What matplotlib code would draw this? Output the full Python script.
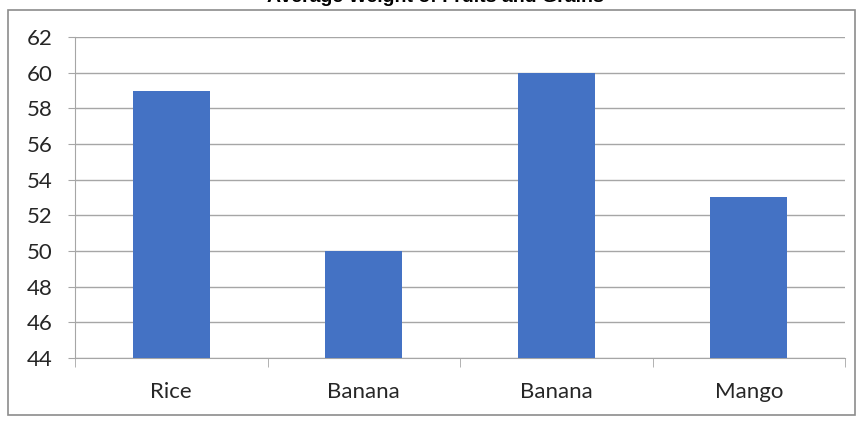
import matplotlib.pyplot as plt
import numpy as np
from matplotlib.patches import Rectangle

categories = ["Rice", "Banana", "Banana", "Mango"]
values = [59, 50, 60, 53]
y_ticks = [44, 46, 48, 50, 52, 54, 56, 58, 60, 62]

plt.rcParams["font.family"] = ["Lato", "DejaVu Sans"]

fig = plt.figure(figsize=(8.62, 4.21), dpi=100)
ax = fig.add_axes([75 / 862, 1 - 358 / 421, (845 - 75) / 862, (358 - 37) / 421])

x = np.arange(len(categories))
ax.bar(x, values, width=0.4, color="#4472C4", zorder=3)

ax.set_xlim(-0.5, len(categories) - 0.5)
ax.set_ylim(44, 62)
ax.set_yticks(y_ticks)
ax.grid(axis="y", color="#a6a6a6", linewidth=1, zorder=0)

ax.set_xticks(x)
ax.set_xticklabels(categories, fontsize=16, color="#262626")
ax.set_xticks(np.arange(-0.5, len(categories)), minor=True)
ax.tick_params(axis="x", which="major", length=0, pad=17)
ax.tick_params(axis="x", which="minor", length=6.5, color="#a6a6a6", direction="out")
ax.tick_params(axis="y", length=5, color="#a6a6a6", labelsize=16, labelcolor="#262626", pad=11)

for s in ["top", "right"]:
    ax.spines[s].set_visible(False)
for s in ["left", "bottom"]:
    ax.spines[s].set_color("#a6a6a6")

# chart frame and the title sitting above its top edge
fig.patches.append(Rectangle((8 / 862, 6 / 421), (855 - 8) / 862, (411 - 6) / 421,
                             transform=fig.transFigure, fill=False,
                             edgecolor="#8c8c8c", linewidth=1.2))
fig.text(0.505, 1 - 1.5 / 421, "Average Weight of Fruits and Grains", ha="center", va="baseline",
         fontsize=14, fontweight="bold", family=["Liberation Sans", "DejaVu Sans"])

fig.savefig("out.png", dpi=100)
